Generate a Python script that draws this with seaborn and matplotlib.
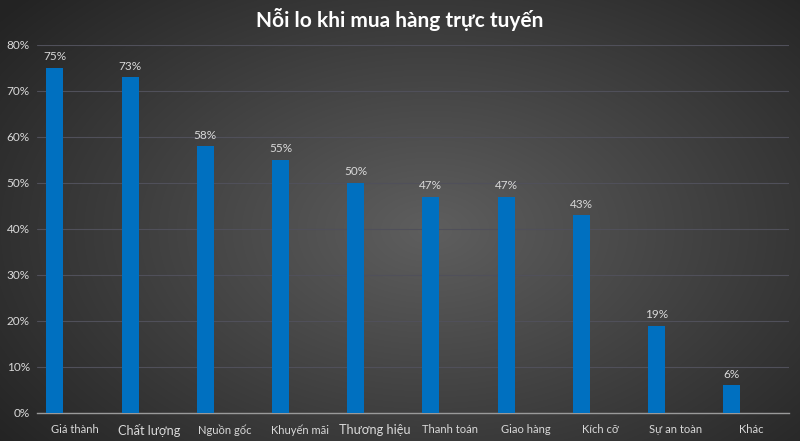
import numpy as np
import pandas as pd
import seaborn as sns
import matplotlib.pyplot as plt

categories = ["Giá thành", "Chất lượng", "Nguồn gốc", "Khuyến mãi", "Thương hiệu",
              "Thanh toán", "Giao hàng", "Kích cỡ", "Sự an toàn", "Khác"]
values = [0.75, 0.73, 0.58, 0.55, 0.50, 0.47, 0.47, 0.43, 0.19, 0.06]
label_sizes = [8, 9.2, 8, 8, 9.2, 8, 8, 8, 8, 8]

sns.set_theme(style="dark")
plt.rcParams['font.family'] = ['Lato', 'Noto Sans', 'DejaVu Sans']

fig = plt.figure(figsize=(8, 4.41), dpi=100)

# radial background gradient
bg = fig.add_axes([0, 0, 1, 1])
yy, xx = np.mgrid[0:441, 0:800]
r = np.sqrt(((xx - 430) / 520) ** 2 + ((yy - 230) / 330) ** 2)
shade = np.clip(0.37 - 0.22 * r, 0.14, 0.37)
bg.imshow(np.dstack([shade, shade, shade]), extent=[0, 1, 0, 1], aspect="auto")
bg.axis("off")

ax = fig.add_axes([0.046, 0.0635, 0.94, 0.8345])
ax.set_facecolor("none")

df = pd.DataFrame({"pos": np.arange(len(categories)) - 0.26, "val": values})
sns.barplot(data=df, x="pos", y="val", native_scale=True, width=0.226,
            color="#0070C0", saturation=1, linewidth=0, ax=ax, zorder=3)

ax.set_xlim(-0.5, 9.5)
ax.set_ylim(0, 0.8)
ax.set_yticks(np.arange(0, 0.81, 0.1))
ax.set_yticklabels([f"{int(round(v * 100))}%" for v in np.arange(0, 0.81, 0.1)],
                   color="#D9D9D9", fontsize=8.5)
ax.set_xticks(np.arange(len(categories)))
ax.set_xticklabels(categories, color="#D9D9D9")
for lab, s in zip(ax.get_xticklabels(), label_sizes):
    lab.set_fontsize(s)
ax.tick_params(axis="x", length=0, pad=8)
ax.tick_params(axis="y", length=0, pad=5)
ax.set_xlabel("")
ax.set_ylabel("")

ax.grid(axis="y", color="#50505a", linewidth=0.8, zorder=0)
ax.grid(axis="x", visible=False)
for side in ["top", "right", "left"]:
    ax.spines[side].set_visible(False)
ax.spines["bottom"].set_color("#9a9a9a")
ax.spines["bottom"].set_linewidth(1)

ax.bar_label(ax.containers[0], labels=[f"{int(round(v * 100))}%" for v in values],
             color="#D9D9D9", fontsize=8.5, padding=4)

fig.text(0.5, 0.955, "Nỗi lo khi mua hàng trực tuyến", ha="center", va="center",
         color="white", fontsize=15, fontweight="bold")

fig.savefig("out.png", dpi=100)
